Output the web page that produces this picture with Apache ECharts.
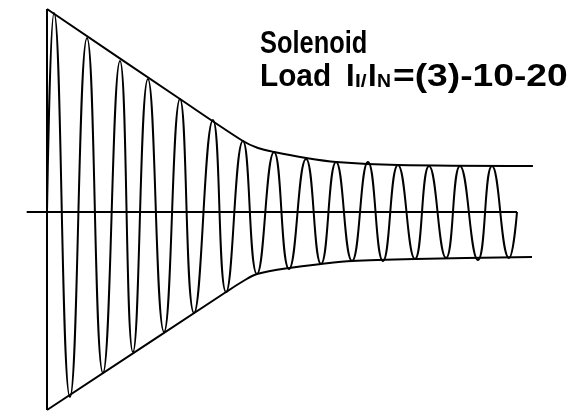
<!DOCTYPE html>
<html>
<head>
<meta charset="utf-8">
<script src="https://cdn.jsdelivr.net/npm/echarts@6/dist/echarts.min.js"></script>
<style>
  html, body { margin: 0; padding: 0; background: #fff; }
  #chart { width: 577px; height: 411px; }
</style>
</head>
<body>
<div id="chart"></div>
<script>
// Inrush current of a solenoid load: time in ms, current in relative units.
const peakTimes     = [4.5, 25.6, 46.7, 64.6, 85.1, 106.2, 125.4, 145.3, 165.8, 185.0, 205.4, 224.6, 244.5, 264.3, 284.8];
const peakCurrents  = [19.9, 17.4, 15.1, 13.3, 11.3, 9.2, 7.1, 6.0, 5.3, 5.0, 5.0, 4.7, 4.6, 4.6, 4.6];
const troughTimes    = [14.7, 35.8, 55.0, 74.9, 94.1, 114.6, 134.4, 154.9, 175.4, 195.2, 215.0, 235.5, 255.4, 275.8, 295.7];
const troughCurrents = [-18.5, -16.1, -14.0, -12.0, -10.1, -8.0, -6.2, -5.7, -5.2, -4.9, -4.9, -4.7, -4.6, -4.8, -4.6];
const waveStart = [0, 0];
const waveEnd = [300.8, 0];

// Envelope curves
const upperEnvTimes    = [0, 85.1, 125.4, 135.0, 145.3, 165.8, 185.0, 224.6, 311.0];
const upperEnvCurrents = [20.3, 11.3, 7.1, 6.4, 6.0, 5.4, 5.0, 4.7, 4.6];
const lowerEnvTimes    = [0, 114.6, 126.7, 134.4, 154.9, 175.4, 195.2, 235.5, 310.4];
const lowerEnvCurrents = [-19.8, -8.0, -6.8, -6.2, -5.6, -5.2, -4.9, -4.7, -4.5];

// Axis lines
const timeAxisRange = [-13, 300.8];
const currentAxisRange = [-19.8, 20.3];

// Caption pieces: [text, big/small]
const titleLine1 = 'Solenoid';
const titleLine2 = ['Load', 'I', 'I/', 'I', 'N', '=(3)-10-20'];
const titleLine2Small = [false, false, true, false, true, false];

function pairs(xs, ys) { return xs.map((x, i) => [x, ys[i]]); }

const wave = [waveStart];
for (let i = 0; i < peakTimes.length; i++) {
  wave.push([peakTimes[i], peakCurrents[i]]);
  wave.push([troughTimes[i], troughCurrents[i]]);
}
wave.push(waveEnd);

const black = { color: '#000', width: 2 };
function lineSeries(data, smooth) {
  return {
    type: 'line', data: data, smooth: smooth, symbol: 'none', clip: false,
    lineStyle: black, itemStyle: { color: '#000' }, silent: true
  };
}

const font = 'Liberation Sans, Arial, sans-serif';
const bigFont = 'bold 31px ' + font;
const smallFont = 'bold 19px ' + font;

// Caption layout: left edge, top and horizontal scale of each piece
const line2Layout = [
  { x: 260, sx: 0.96 },
  { x: 346, sx: 1 },
  { x: 355, sx: 1.1 },
  { x: 368, sx: 1 },
  { x: 377, sx: 1.02 },
  { x: 393, sx: 1.2 }
];

function caption(text, x, y, f, sx) {
  return {
    type: 'text', x: x, y: y, scaleX: sx, silent: true,
    style: { text: text, font: f, fill: '#000', align: 'left', verticalAlign: 'top' }
  };
}

const graphics = [caption(titleLine1, 260, 28.6, bigFont, 0.82)];
titleLine2.forEach((t, i) => {
  const small = titleLine2Small[i];
  graphics.push(caption(t, line2Layout[i].x, small ? 71.8 : 61.6, small ? smallFont : bigFont, line2Layout[i].sx));
});

const chart = echarts.init(document.getElementById('chart'), null, { renderer: 'canvas' });
chart.setOption({
  animation: false,
  backgroundColor: '#fff',
  grid: { left: 26.6875, right: 42.5, top: 5, bottom: 0 },
  xAxis: { type: 'value', min: -13, max: 312, show: false },
  yAxis: { type: 'value', min: -19.9, max: 20.7, show: false },
  series: [
    lineSeries([[0, currentAxisRange[0]], [0, currentAxisRange[1]]], false),
    lineSeries([[timeAxisRange[0], 0], [timeAxisRange[1], 0]], false),
    lineSeries(pairs(upperEnvTimes, upperEnvCurrents), 0.3),
    lineSeries(pairs(lowerEnvTimes, lowerEnvCurrents), 0.3),
    lineSeries(wave, 0.5)
  ],
  graphic: graphics
});
</script>
</body>
</html>
